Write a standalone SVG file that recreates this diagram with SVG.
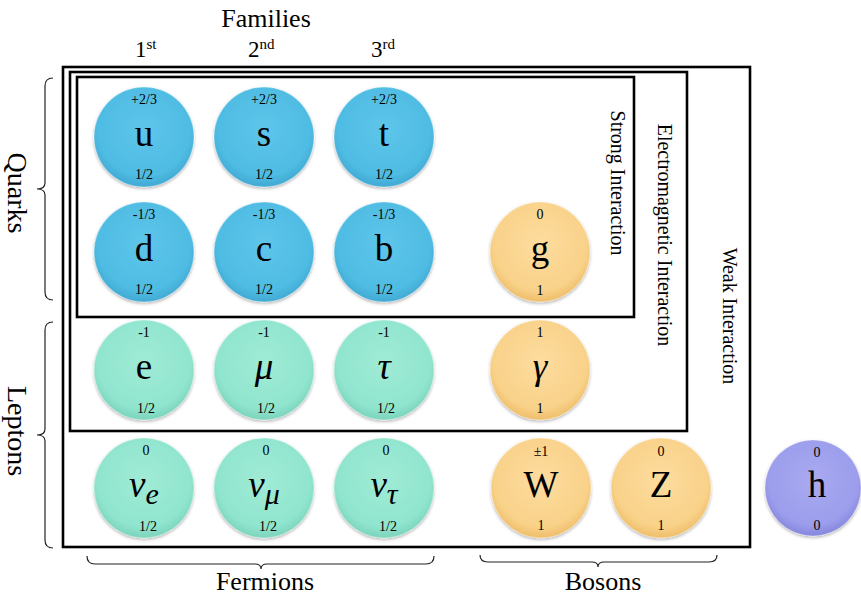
<svg xmlns="http://www.w3.org/2000/svg" width="861" height="599" viewBox="0 0 861 599">
  <defs>
    <radialGradient id="gQuark" cx="50%" cy="42%" r="58%">
      <stop offset="0%" stop-color="#5EC5EA"/>
      <stop offset="80%" stop-color="#4FBCE3"/>
      <stop offset="100%" stop-color="#40A9D3"/>
    </radialGradient>
    <radialGradient id="gLepton" cx="50%" cy="42%" r="58%">
      <stop offset="0%" stop-color="#A0EBD6"/>
      <stop offset="80%" stop-color="#90E5CE"/>
      <stop offset="100%" stop-color="#7CD4BC"/>
    </radialGradient>
    <radialGradient id="gBoson" cx="50%" cy="42%" r="58%">
      <stop offset="0%" stop-color="#FDDC9E"/>
      <stop offset="80%" stop-color="#F9D28A"/>
      <stop offset="100%" stop-color="#EEBE6A"/>
    </radialGradient>
    <radialGradient id="gHiggs" cx="50%" cy="42%" r="58%">
      <stop offset="0%" stop-color="#A9AAF0"/>
      <stop offset="80%" stop-color="#9C9DEC"/>
      <stop offset="100%" stop-color="#8687DD"/>
    </radialGradient>
    <filter id="soft" x="-20%" y="-20%" width="140%" height="140%">
      <feDropShadow dx="0" dy="1.5" stdDeviation="1.5" flood-color="#000" flood-opacity="0.3"/>
    </filter>
  </defs>
  <style>
    text { font-family: "Liberation Serif", "Times New Roman", serif; fill: #000; }
    .ball { filter: url(#soft); stroke: #ffffff; stroke-opacity: 0.35; stroke-width: 1; }
    .quark { fill: url(#gQuark); }
    .lepton { fill: url(#gLepton); }
    .boson { fill: url(#gBoson); }
    .higgs { fill: url(#gHiggs); }
    .sym { font-size: 37px; text-anchor: middle; }
    .greek { font-style: italic; }
    .num { font-size: 14px; text-anchor: middle; }
    .box { fill: none; stroke: #000; stroke-width: 2.6; }
    .brace { fill: none; stroke: #222; stroke-width: 1.2; }
    .head { font-size: 26px; }
    .ord { font-size: 23px; }
    .side { font-size: 28px; text-anchor: middle; }
    .force { font-size: 20px; text-anchor: middle; }
  </style>

  <!-- interaction regions -->
  <g id="regions">
    <rect class="box" x="63" y="67" width="687" height="480"/>
    <rect class="box" x="70" y="72" width="617" height="359"/>
    <rect class="box" x="77" y="77" width="557" height="240"/>
    <text class="force" transform="translate(611,183) rotate(90)">Strong Interaction</text>
    <text class="force" transform="translate(658,235) rotate(90)">Electromagnetic Interaction</text>
    <text class="force" transform="translate(723,316) rotate(90)">Weak Interaction</text>
  </g>

  <!-- column / row headings -->
  <g id="headings">
    <text class="head" x="266" y="27" text-anchor="middle">Families</text>
    <text class="ord" x="135" y="57">1<tspan font-size="15" dy="-8">st</tspan></text>
    <text class="ord" x="248" y="57">2<tspan font-size="15" dy="-8">nd</tspan></text>
    <text class="ord" x="371" y="57">3<tspan font-size="15" dy="-8">rd</tspan></text>
    <text class="side" transform="translate(8,193) rotate(90)">Quarks</text>
    <text class="side" transform="translate(8,431) rotate(90)">Leptons</text>
    <text class="head" x="265" y="590" text-anchor="middle">Fermions</text>
    <text class="head" x="603" y="590" text-anchor="middle">Bosons</text>
  </g>

  <!-- grouping braces -->
  <g id="connectors">
    <path class="brace" d="M53,78 Q45,78 45,86 L45,183 Q45,189 37,189 Q45,189 45,195 L45,292 Q45,300 53,300"/>
    <path class="brace" d="M53,322 Q45,322 45,330 L45,429 Q45,435 37,435 Q45,435 45,441 L45,540 Q45,548 53,548"/>
    <path class="brace" d="M87,556 Q87,564 95,564 L255,564 Q261,564 261,569 Q261,564 267,564 L426,564 Q434,564 434,556"/>
    <path class="brace" d="M480,555 Q480,562 488,562 L592,562 Q598,562 598,567 Q598,562 604,562 L709,562 Q717,562 717,555"/>
  </g>

  <!-- quarks -->
  <g id="up">
    <circle class="ball quark" cx="144" cy="137" r="50"/>
    <text class="num" x="144" y="104">+2/3</text>
    <text class="sym" x="144" y="146">u</text>
    <text class="num" x="144" y="179">1/2</text>
  </g>
  <g id="strange">
    <circle class="ball quark" cx="264" cy="137" r="50"/>
    <text class="num" x="264" y="104">+2/3</text>
    <text class="sym" x="264" y="146">s</text>
    <text class="num" x="264" y="179">1/2</text>
  </g>
  <g id="top">
    <circle class="ball quark" cx="384" cy="137" r="50"/>
    <text class="num" x="384" y="104">+2/3</text>
    <text class="sym" x="384" y="146">t</text>
    <text class="num" x="384" y="179">1/2</text>
  </g>
  <g id="down">
    <circle class="ball quark" cx="144" cy="252" r="50"/>
    <text class="num" x="144" y="219">-1/3</text>
    <text class="sym" x="144" y="261">d</text>
    <text class="num" x="144" y="294">1/2</text>
  </g>
  <g id="charm">
    <circle class="ball quark" cx="264" cy="252" r="50"/>
    <text class="num" x="264" y="219">-1/3</text>
    <text class="sym" x="264" y="261">c</text>
    <text class="num" x="264" y="294">1/2</text>
  </g>
  <g id="bottom">
    <circle class="ball quark" cx="384" cy="252" r="50"/>
    <text class="num" x="384" y="219">-1/3</text>
    <text class="sym" x="384" y="261">b</text>
    <text class="num" x="384" y="294">1/2</text>
  </g>

  <!-- leptons -->
  <g id="electron">
    <circle class="ball lepton" cx="144" cy="370" r="50"/>
    <text class="num" x="144" y="337">-1</text>
    <text class="sym" x="144" y="379">e</text>
    <text class="num" x="146" y="413">1/2</text>
  </g>
  <g id="muon">
    <circle class="ball lepton" cx="264" cy="370" r="50"/>
    <text class="num" x="264" y="337">-1</text>
    <text class="sym greek" x="264" y="379">μ</text>
    <text class="num" x="266" y="413">1/2</text>
  </g>
  <g id="tau">
    <circle class="ball lepton" cx="384" cy="370" r="50"/>
    <text class="num" x="384" y="337">-1</text>
    <text class="sym greek" x="384" y="379">τ</text>
    <text class="num" x="386" y="413">1/2</text>
  </g>
  <g id="nu-e">
    <circle class="ball lepton" cx="144" cy="488" r="50"/>
    <text class="num" x="146" y="455">0</text>
    <text class="sym greek" x="144" y="497">ν<tspan font-size="30" dy="7">e</tspan></text>
    <text class="num" x="148" y="531">1/2</text>
  </g>
  <g id="nu-mu">
    <circle class="ball lepton" cx="264" cy="488" r="50"/>
    <text class="num" x="266" y="455">0</text>
    <text class="sym greek" x="264" y="497">ν<tspan font-size="30" dy="7">μ</tspan></text>
    <text class="num" x="268" y="531">1/2</text>
  </g>
  <g id="nu-tau">
    <circle class="ball lepton" cx="384" cy="488" r="50"/>
    <text class="num" x="386" y="455">0</text>
    <text class="sym greek" x="384" y="497">ν<tspan font-size="30" dy="7">τ</tspan></text>
    <text class="num" x="388" y="531">1/2</text>
  </g>

  <!-- gauge bosons -->
  <g id="gluon">
    <circle class="ball boson" cx="540" cy="252" r="50"/>
    <text class="num" x="540" y="219">0</text>
    <text class="sym" x="540" y="261">g</text>
    <text class="num" x="540" y="295">1</text>
  </g>
  <g id="photon">
    <circle class="ball boson" cx="540" cy="370" r="50"/>
    <text class="num" x="540" y="337">1</text>
    <text class="sym greek" x="540" y="379">γ</text>
    <text class="num" x="540" y="413">1</text>
  </g>
  <g id="w-boson">
    <circle class="ball boson" cx="541" cy="488" r="50"/>
    <text class="num" x="541" y="456">±1</text>
    <text class="sym" x="541" y="497">W</text>
    <text class="num" x="541" y="530">1</text>
  </g>
  <g id="z-boson">
    <circle class="ball boson" cx="661" cy="488" r="50"/>
    <text class="num" x="661" y="456">0</text>
    <text class="sym" x="661" y="497">Z</text>
    <text class="num" x="661" y="530">1</text>
  </g>

  <!-- scalar -->
  <g id="higgs">
    <circle class="ball higgs" cx="813" cy="488" r="48"/>
    <text class="num" x="817" y="457">0</text>
    <text class="sym" x="817" y="497">h</text>
    <text class="num" x="817" y="530">0</text>
  </g>
</svg>
